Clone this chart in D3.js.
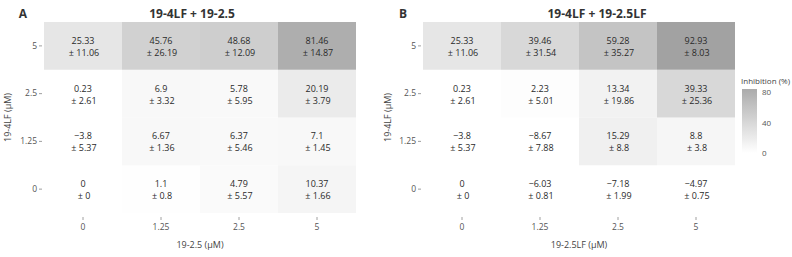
<!DOCTYPE html>
<html>
<head>
<meta charset="utf-8">
<script src="https://cdn.jsdelivr.net/npm/d3@7"></script>
<style>
  html, body { margin: 0; padding: 0; background: #ffffff; }
  svg { display: block; font-family: "Open Sans", "Noto Sans", sans-serif; }
</style>
</head>
<body>
<svg id="chart" width="792" height="257"></svg>
<script>
// ---- data ----
const xLevels = ["0", "1.25", "2.5", "5"];
const yLevels = ["0", "1.25", "2.5", "5"];   // bottom -> top

// rows follow yLevels order, columns follow xLevels order
const meanA = [
  [0, 1.1, 4.79, 10.37],
  [-3.8, 6.67, 6.37, 7.1],
  [0.23, 6.9, 5.78, 20.19],
  [25.33, 45.76, 48.68, 81.46]
];
const sdA = [
  [0, 0.8, 5.57, 1.66],
  [5.37, 1.36, 5.46, 1.45],
  [2.61, 3.32, 5.95, 3.79],
  [11.06, 26.19, 12.09, 14.87]
];
const meanB = [
  [0, -6.03, -7.18, -4.97],
  [-3.8, -8.67, 15.29, 8.8],
  [0.23, 2.23, 13.34, 39.33],
  [25.33, 39.46, 59.28, 92.93]
];
const sdB = [
  [0, 0.81, 1.99, 0.75],
  [5.37, 7.88, 8.8, 3.8],
  [2.61, 5.01, 19.86, 25.36],
  [11.06, 31.54, 35.27, 8.03]
];
const legendTicks = [0, 40, 80];

const panels = [
  { tag: "A", title: "19-4LF + 19-2.5", xTitle: "19-2.5 (μM)", yTitle: "19-4LF (μM)",
    mean: meanA, sd: sdA, left: 44, titleX: 192, tagX: 23, yTitleX: 8 },
  { tag: "B", title: "19-4LF + 19-2.5LF", xTitle: "19-2.5LF (μM)", yTitle: "19-4LF (μM)",
    mean: meanB, sd: sdB, left: 423, titleX: 597, tagX: 403, yTitleX: 388 }
];

// ---- rendering ----
const svg = d3.select("#chart");
const tileW = 312, tileTop = 22, tileBottom = 213;

const color = d3.scaleLinear().domain([0, 100]).range(["#ffffff", "#9b9b9b"]).clamp(true);
const fmt = v => (v < 0 ? "\u2212" + String(Math.abs(v)) : String(v));

panels.forEach(p => {
  const x = d3.scaleBand().domain(xLevels).range([p.left, p.left + tileW]);
  const y = d3.scaleBand().domain(yLevels).range([tileBottom, tileTop]);

  const cells = [];
  yLevels.forEach((yl, i) => xLevels.forEach((xl, j) => {
    cells.push({ xl, yl, m: p.mean[i][j], s: p.sd[i][j] });
  }));

  const g = svg.append("g");
  g.selectAll("rect.tile").data(cells).join("rect")
    .attr("class", "tile")
    .attr("x", d => x(d.xl)).attr("y", d => y(d.yl))
    .attr("width", x.bandwidth()).attr("height", y.bandwidth())
    .attr("fill", d => color(d.m));

  const txt = g.selectAll("text.cell").data(cells).join("text")
    .attr("class", "cell")
    .attr("text-anchor", "middle")
    .attr("font-size", 9)
    .attr("fill", "#2a2a2a");
  txt.append("tspan")
    .attr("x", d => x(d.xl) + x.bandwidth() / 2)
    .attr("y", d => y(d.yl) + y.bandwidth() / 2 - 2)
    .text(d => fmt(d.m));
  txt.append("tspan")
    .attr("x", d => x(d.xl) + x.bandwidth() / 2 + 1)
    .attr("y", d => y(d.yl) + y.bandwidth() / 2 + 10)
    .text(d => "\u00b1 " + String(d.s));

  // axes
  const xAxis = g.append("g").attr("transform", `translate(0,${tileBottom + 4})`)
    .call(d3.axisBottom(x).tickSize(3).tickPadding(4));
  const yAxis = g.append("g").attr("transform", `translate(${p.left - 2},0)`)
    .call(d3.axisLeft(y).tickSize(3).tickPadding(2));
  [xAxis, yAxis].forEach(a => {
    a.select(".domain").remove();
    a.selectAll(".tick line").attr("stroke", "#888").attr("stroke-width", 0.8);
    a.selectAll(".tick text").attr("fill", "#555").attr("font-size", 8.5)
      .attr("font-family", "'Open Sans', 'Noto Sans', sans-serif");
  });

  // titles
  g.append("text").attr("x", p.titleX).attr("y", 18).attr("text-anchor", "middle")
    .attr("font-size", 12).attr("font-weight", "bold").attr("fill", "#333").text(p.title);
  g.append("text").attr("x", p.tagX).attr("y", 18).attr("text-anchor", "middle")
    .attr("font-size", 12).attr("font-weight", "bold").attr("fill", "#333").text(p.tag);
  g.append("text").attr("x", p.left + tileW / 2).attr("y", 248).attr("text-anchor", "middle")
    .attr("font-size", 9).attr("fill", "#444").text(p.xTitle);
  g.append("text")
    .attr("transform", `translate(${p.yTitleX + 3},${(tileTop + tileBottom) / 2}) rotate(-90)`)
    .attr("text-anchor", "middle").attr("font-size", 9).attr("fill", "#444").text(p.yTitle);
});

// ---- legend ----
const legY = d3.scaleLinear().domain([0, 80]).range([153, 92]);
const barTop = 89, barBottom = 160, barX = 742, barW = 15;
const defs = svg.append("defs");
const grad = defs.append("linearGradient").attr("id", "lg")
  .attr("x1", 0).attr("y1", 0).attr("x2", 0).attr("y2", 1);
d3.range(0, 11).forEach(k => {
  const yy = barTop + (barBottom - barTop) * k / 10;
  grad.append("stop").attr("offset", k / 10).attr("stop-color", color(legY.invert(yy)));
});
svg.append("rect").attr("x", barX).attr("y", barTop).attr("width", barW)
  .attr("height", barBottom - barTop).attr("fill", "url(#lg)");
svg.append("text").attr("x", 790).attr("y", 84).attr("text-anchor", "end")
  .attr("font-size", 8).attr("fill", "#444")
  .text("Inhibition (%)");
svg.selectAll("text.legtick").data(legendTicks).join("text")
  .attr("class", "legtick")
  .attr("x", barX + barW + 5).attr("y", d => legY(d) + 3)
  .attr("font-size", 8).attr("fill", "#555").text(d => d);
</script>
</body>
</html>
